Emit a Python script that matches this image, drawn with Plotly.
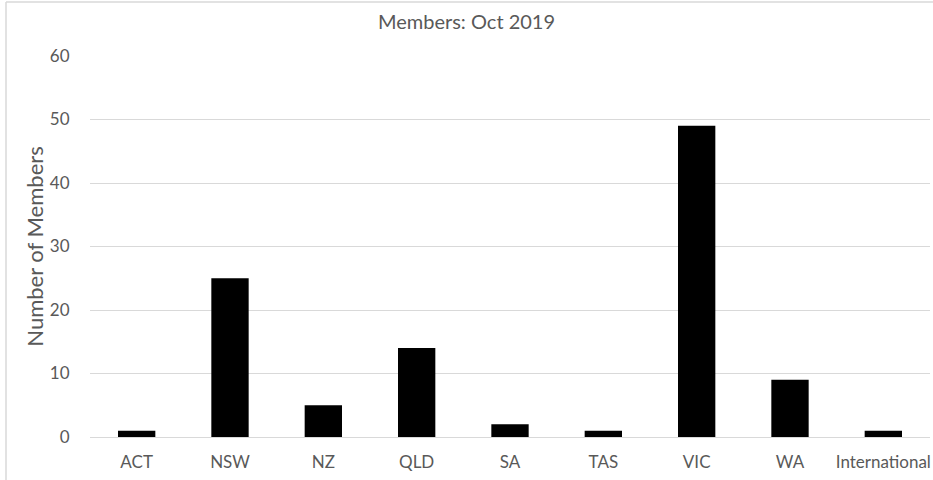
import plotly.graph_objects as go

categories = ["ACT", "NSW", "NZ", "QLD", "SA", "TAS", "VIC", "WA", "International"]
members = [1, 25, 5, 14, 2, 1, 49, 9, 1]
y_ticks = [0, 10, 20, 30, 40, 50, 60]

txt = "#595959"
font_family = "Lato, sans-serif"

fig = go.Figure(go.Bar(x=categories, y=members, marker=dict(color="black", line=dict(width=0))))

fig.update_layout(
    width=933, height=480,
    margin=dict(l=90, r=3, t=56, b=43),
    paper_bgcolor="white", plot_bgcolor="white",
    bargap=0.6,
    showlegend=False,
    font=dict(family=font_family, color=txt, size=17),
    title=dict(text="Members: Oct 2019", x=0.5, xanchor="center", y=1 - 22/480, yanchor="middle",
               font=dict(size=20, color=txt)),
)
fig.update_xaxes(showgrid=False, showline=True, linecolor="#d9d9d9", linewidth=1,
                 ticks="outside", ticklen=10, tickcolor="rgba(0,0,0,0)",
                 tickfont=dict(size=17, color=txt))
fig.update_yaxes(range=[0, 60], tickvals=y_ticks, showgrid=True, gridcolor="#d9d9d9", gridwidth=1,
                 zeroline=False, showline=False,
                 ticks="outside", ticklen=16, tickcolor="rgba(0,0,0,0)",
                 tickfont=dict(size=17, color=txt),
                 title=dict(text="Number of Members", font=dict(size=22, color=txt), standoff=0))

# outer chart frame (light border)
fig.add_shape(type="line", xref="paper", yref="paper", x0=(6-90)/840, x1=1.2, y0=(437-2)/381, y1=(437-2)/381,
              line=dict(color="#d9d9d9", width=1.5))
fig.add_shape(type="line", xref="paper", yref="paper", x0=(6-90)/840, x1=(6-90)/840, y0=-0.2, y1=(437-2)/381,
              line=dict(color="#d9d9d9", width=1.5))

fig.write_html("out.html", config={"displayModeBar": False},
               post_script="document.body.style.margin='0';")
